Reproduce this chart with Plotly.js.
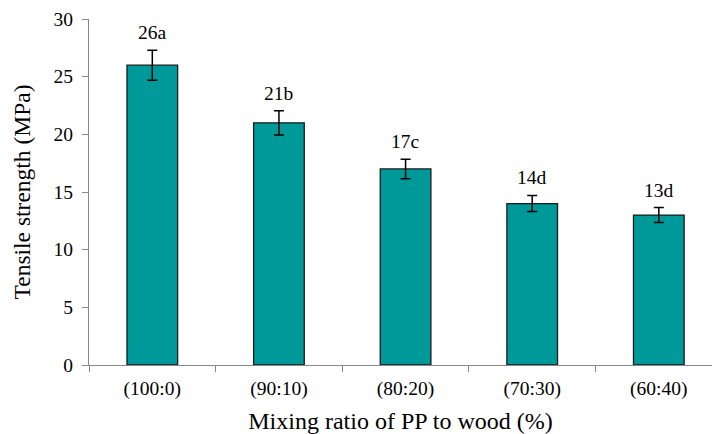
<!DOCTYPE html>
<html>
<head>
<meta charset="utf-8">
<script src="https://cdn.plot.ly/plotly-3.0.1.min.js"></script>
<style>html,body{margin:0;padding:0;background:#fff;}</style>
</head>
<body>
<div id="chart" style="width:712px;height:434px;"></div>
<script>
const categories = ["(100:0)", "(90:10)", "(80:20)", "(70:30)", "(60:40)"];
const strength = [26, 21, 17, 14, 13];
const errors = [1.3, 1.05, 0.85, 0.7, 0.65];
const groupLabels = ["26a", "21b", "17c", "14d", "13d"];

const FONT = "Liberation Serif";

const trace = {
  type: "bar",
  x: categories,
  y: strength,
  marker: {color: "#009999", line: {color: "#1a1a1a", width: 1.3}},
  error_y: {type: "data", array: errors, visible: true, color: "#000", thickness: 1.5, width: 5},
  hoverinfo: "skip"
};

const annotations = categories.map((c, i) => ({
  x: c, y: strength[i] + errors[i], xref: "x", yref: "y",
  text: groupLabels[i], showarrow: false, yanchor: "bottom", yshift: 5,
  font: {family: FONT, size: 19.5, color: "#000"}
}));

const layout = {
  width: 712, height: 434,
  margin: {l: 89, r: 0, t: 19, b: 69},
  paper_bgcolor: "#fff", plot_bgcolor: "#fff",
  showlegend: false,
  bargap: 0.6,
  font: {family: FONT, size: 19.5, color: "#000"},
  xaxis: {
    type: "category",
    range: [-0.5, 4.42],
    tickson: "boundaries",
    ticks: "outside", ticklen: 6, tickcolor: "#888", tickwidth: 1,
    showline: true, linecolor: "#888", linewidth: 1,
    showgrid: false, zeroline: false,
    ticklabelstandoff: 6,
    tickfont: {family: FONT, size: 19.5, color: "#000"},
    title: {text: "Mixing ratio of PP to wood (%)", font: {family: FONT, size: 24, color: "#000"}, standoff: 12}
  },
  yaxis: {
    range: [0, 30], dtick: 5, tick0: 0,
    ticks: "outside", ticklen: 6, tickcolor: "#888", tickwidth: 1,
    showline: true, linecolor: "#888", linewidth: 1,
    showgrid: false, zeroline: false,
    ticklabelstandoff: 5,
    tickfont: {family: FONT, size: 19.5, color: "#000"},
    title: {text: "Tensile strength (MPa)", font: {family: FONT, size: 23.5, color: "#000"}, standoff: 16}
  },
  annotations: annotations
};

Plotly.newPlot("chart", [trace], layout, {displayModeBar: false, staticPlot: true});
</script>
</body>
</html>
